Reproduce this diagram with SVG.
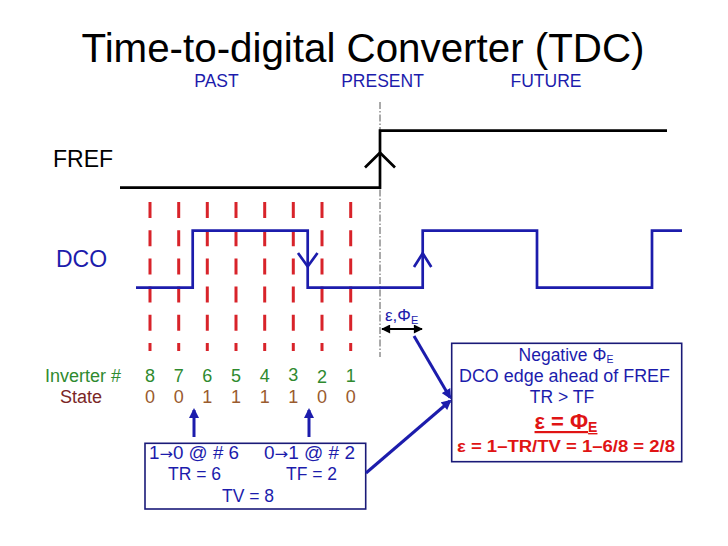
<svg xmlns="http://www.w3.org/2000/svg" width="728" height="546" viewBox="0 0 728 546">
<style>
  text { font-family: "Liberation Sans", Arial, sans-serif; }
  .blue { fill: #1c1cac; }
  .title { font-size: 40px; fill: #000; }
  .era { font-size: 17.5px; fill: #1c1cac; }
  .sig { fill: none; stroke-width: 2.7; stroke-linejoin: miter; }
  .fref { stroke: #000; }
  .dco { stroke: #1c1cac; }
  .grid line { stroke: #d8232a; stroke-width: 3; stroke-dasharray: 16 12.2; }
  .inv { font-size: 18px; fill: #2f8a2f; }
  .st { font-size: 18px; fill: #9a5b2e; }
  .stl { font-size: 18px; fill: #7a2626; }
  .box { fill: #fff; stroke: #1a1a78; stroke-width: 1.6; }
  .bt { font-size: 17.5px; fill: #1c1cac; }
  .arr { font-family: "DejaVu Sans", sans-serif; font-size: 15px; }
  .red { fill: #e01414; font-weight: bold; }
  .conn { stroke: #1c1cac; stroke-width: 3; fill: none; }
</style>
<defs>
  <marker id="ab" viewBox="0 0 10 10" refX="8" refY="5" markerWidth="11" markerHeight="10" markerUnits="userSpaceOnUse" orient="auto">
    <path d="M0,0 L10,5 L0,10 z" fill="#1c1cac"/>
  </marker>
  <marker id="ak" viewBox="0 0 10 10" refX="9" refY="5" markerWidth="10" markerHeight="9" markerUnits="userSpaceOnUse" orient="auto-start-reverse">
    <path d="M0,0 L10,5 L0,10 z" fill="#000"/>
  </marker>
</defs>
<rect width="728" height="546" fill="#fff"/>

<g id="title">
  <text class="title" x="363" y="62" text-anchor="middle" textLength="563" lengthAdjust="spacingAndGlyphs">Time-to-digital Converter (TDC)</text>
</g>

<g id="time-labels">
  <text class="era" x="216.5" y="87" text-anchor="middle">PAST</text>
  <text class="era" x="382.5" y="87" text-anchor="middle">PRESENT</text>
  <text class="era" x="546" y="87" text-anchor="middle">FUTURE</text>
</g>

<g id="present-line">
  <line x1="380" y1="102" x2="380" y2="357" stroke="#555" stroke-width="1" stroke-dasharray="7 2 1.5 2"/>
</g>

<g id="fref">
  <text x="53" y="167" font-size="23" fill="#000">FREF</text>
  <path class="sig fref" d="M120,187.7 H380 V130.7 H667"/>
  <polyline class="sig fref" points="365,167.5 380,152.7 395,167.5"/>
</g>

<g id="grid" class="grid">
  <line x1="150" y1="202" x2="150" y2="351"/>
  <line x1="178.7" y1="202" x2="178.7" y2="351"/>
  <line x1="207.3" y1="202" x2="207.3" y2="351"/>
  <line x1="236" y1="202" x2="236" y2="351"/>
  <line x1="264.7" y1="202" x2="264.7" y2="351"/>
  <line x1="293.3" y1="202" x2="293.3" y2="351"/>
  <line x1="322" y1="202" x2="322" y2="351"/>
  <line x1="350.7" y1="202" x2="350.7" y2="351"/>
</g>

<g id="dco">
  <text class="blue" x="56" y="267" font-size="23">DCO</text>
  <path class="sig dco" d="M136,287.7 H192.7 V230.7 H307.7 V287.7 H422.7 V230.7 H537 V287.7 H652 V230.7 H682"/>
  <polyline class="sig dco" points="298,253 307.7,266.5 317.5,253"/>
  <polyline class="sig dco" points="414,267 422.7,253.3 431.3,267"/>
</g>

<g id="epsilon-label">
  <text class="blue" x="385" y="321" font-size="17">ε,Φ<tspan font-size="11" dy="3">E</tspan></text>
</g>

<g id="inverter-row">
  <text class="inv" x="45" y="381.5">Inverter #</text>
  <g class="inv" text-anchor="middle">
    <text x="150" y="381.5">8</text>
    <text x="178.7" y="381.5">7</text>
    <text x="207.3" y="381.5">6</text>
    <text x="236" y="381.5">5</text>
    <text x="264.7" y="381.5">4</text>
    <text x="293.3" y="380.5">3</text>
    <text x="322" y="382.5">2</text>
    <text x="350.7" y="381.5">1</text>
  </g>
</g>

<g id="state-row">
  <text class="stl" x="60" y="403.3">State</text>
  <g class="st" text-anchor="middle">
    <text x="150" y="403.3">0</text>
    <text x="178.7" y="403.3">0</text>
    <text x="207.3" y="403.3">1</text>
    <text x="236" y="403.3">1</text>
    <text x="264.7" y="403.3">1</text>
    <text x="293.3" y="403.3">1</text>
    <text x="322" y="403.3">0</text>
    <text x="350.7" y="403.3">0</text>
  </g>
</g>

<g id="box-transitions">
  <rect class="box" x="145" y="443.3" width="220.7" height="65.7"/>
  <text class="bt" x="149" y="459" textLength="90" lengthAdjust="spacingAndGlyphs">1<tspan class="arr">→</tspan>0 @ # 6</text>
  <text class="bt" x="264" y="459" textLength="91" lengthAdjust="spacingAndGlyphs">0<tspan class="arr">→</tspan>1 @ # 2</text>
  <text class="bt" x="168" y="480">TR = 6</text>
  <text class="bt" x="286" y="480">TF = 2</text>
  <text class="bt" x="248" y="502" text-anchor="middle">TV = 8</text>
</g>

<g id="box-phase-error">
  <rect class="box" x="451.7" y="343.3" width="230" height="118.4"/>
  <text class="bt" x="566" y="360.5" text-anchor="middle">Negative Φ<tspan font-size="10.5" dy="2.5">E</tspan></text>
  <text class="bt" x="564.5" y="382" text-anchor="middle" textLength="211" lengthAdjust="spacingAndGlyphs">DCO edge ahead of FREF</text>
  <text class="bt" x="562" y="403" text-anchor="middle">TR &gt; TF</text>
  <text class="red" x="566" y="429" text-anchor="middle" font-size="22" text-decoration="underline">ε = Φ<tspan font-size="14" dy="3">E</tspan></text>
  <text class="red" x="566" y="451.5" text-anchor="middle" font-size="16" textLength="218" lengthAdjust="spacingAndGlyphs">ε = 1–TR/TV = 1–6/8 = 2/8</text>
</g>

<g id="connectors">
  <line x1="382" y1="329" x2="422" y2="329" stroke="#000" stroke-width="2" marker-start="url(#ak)" marker-end="url(#ak)"/>
  <line class="conn" x1="414" y1="336" x2="450" y2="397.5" marker-end="url(#ab)"/>
  <line class="conn" x1="366" y1="473" x2="450" y2="401" marker-end="url(#ab)"/>
  <line class="conn" x1="194" y1="437" x2="194" y2="410" marker-end="url(#ab)"/>
  <line class="conn" x1="309" y1="437" x2="309" y2="410" marker-end="url(#ab)"/>
</g>
</svg>
